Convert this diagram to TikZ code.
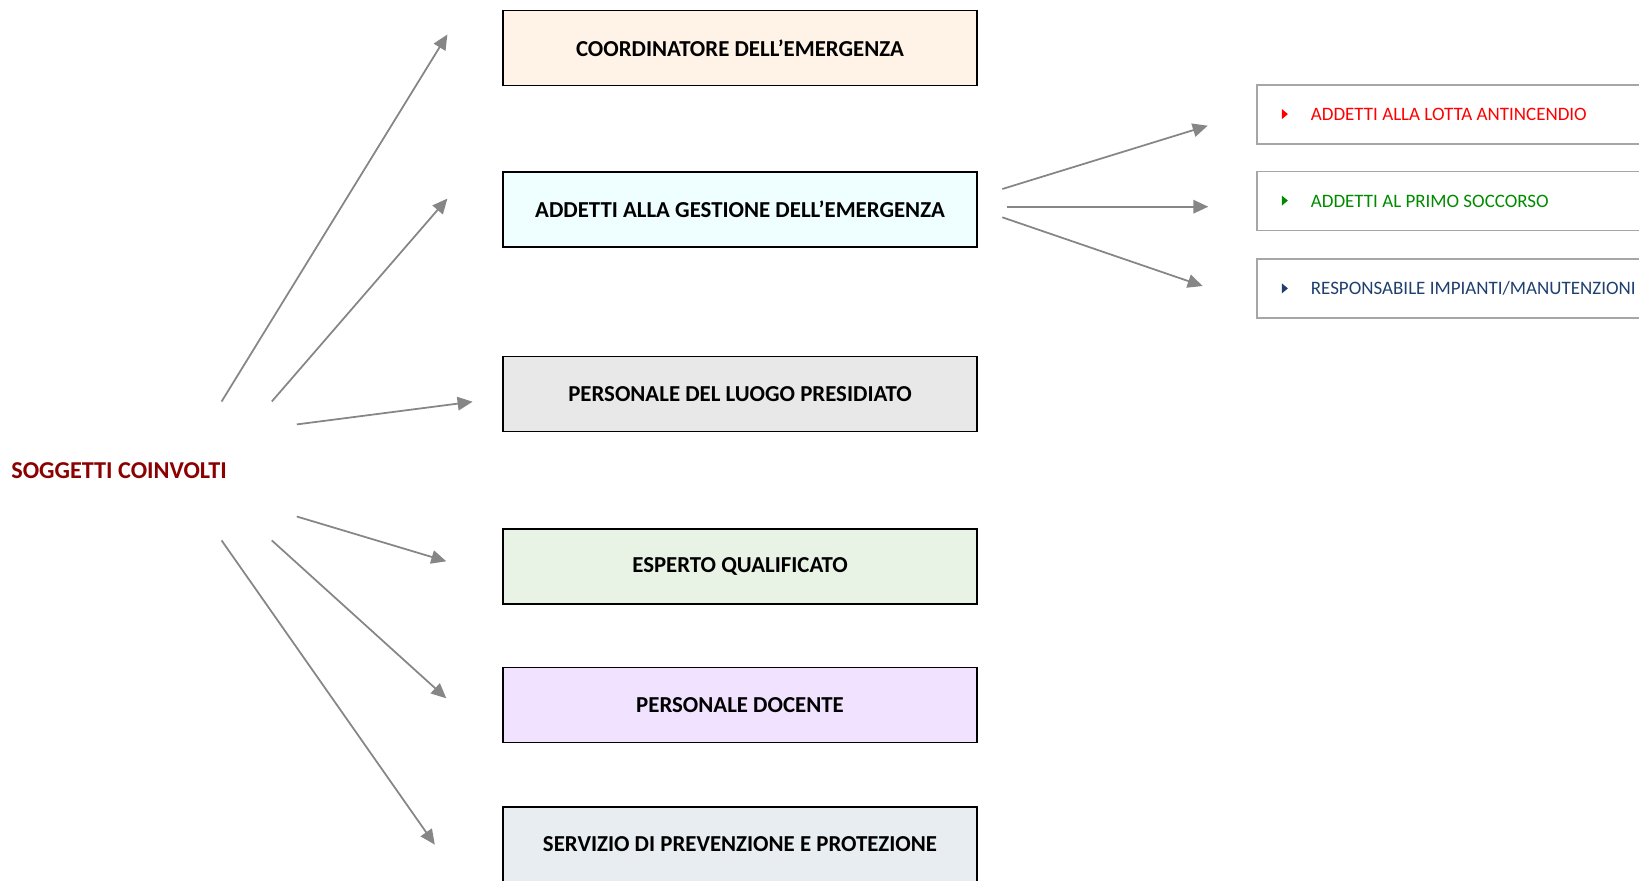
\documentclass[tikz,border=0pt]{standalone}
\usepackage{fontspec}
\setmainfont{Carlito}
\usetikzlibrary{arrows.meta}

\definecolor{titlered}{HTML}{8B0000}
\definecolor{lineclr}{HTML}{868686}
\definecolor{subgray}{HTML}{A6A6A6}
\definecolor{fillcoord}{HTML}{FEF3E6}
\definecolor{fillgest}{HTML}{EFFFFF}
\definecolor{fillpers}{HTML}{E8E8E8}
\definecolor{fillesp}{HTML}{E8F3E6}
\definecolor{filldoc}{HTML}{F1E3FF}
\definecolor{fillspp}{HTML}{E8EDF2}
\definecolor{txtred}{HTML}{FF0000}
\definecolor{txtgreen}{HTML}{008A00}
\definecolor{txtblue}{HTML}{1F3F6F}

\newcommand{\bullettri}[1]{\tikz[x=1cm,y=1cm,baseline=-0.13cm]\fill[#1] (0,-0.1) -- (0.12,0) -- (0,0.1) -- cycle;\hspace{0.46cm}}

\begin{document}
\begin{tikzpicture}[
        x=0.02cm, y=-0.02cm,
        mainbox/.style={draw=black, line width=1pt, minimum width=9.48cm, minimum height=1.5cm,
            font=\fontsize{13}{15}\selectfont\bfseries, align=center},
        subbox/.style={draw=subgray, line width=1pt, minimum width=9cm, minimum height=1.18cm,
            anchor=west, inner xsep=0.44cm, text width=8cm, align=flush left,
            font=\fontsize{10.8}{13}\selectfont},
        fanarrow/.style={draw=lineclr, line width=1pt,
            -{Triangle[length=0.3cm, width=0.27cm]}}
    ]
        \useasboundingbox (0,0) rectangle (1639,880);
        \clip (0,0) rectangle (1639,880);

        % soggetti
        \node[anchor=west, inner sep=0pt, text=titlered, font=\fontsize{13.8}{16}\selectfont\bfseries]
            (soggetti) at (11,471) {SOGGETTI COINVOLTI};

        \node[mainbox, fill=fillcoord] (coord) at (740,48) {COORDINATORE DELL’EMERGENZA};
        \node[mainbox, fill=fillgest] (gestione) at (740,209.5) {ADDETTI ALLA GESTIONE DELL’EMERGENZA};
        \node[mainbox, fill=fillpers] (personale) at (740,394) {PERSONALE DEL LUOGO PRESIDIATO};
        \node[mainbox, fill=fillesp] (esperto) at (740,566.5) {ESPERTO QUALIFICATO};
        \node[mainbox, fill=filldoc] (docente) at (740,705) {PERSONALE DOCENTE};
        \node[mainbox, fill=fillspp] (spp) at (740,844.5) {SERVIZIO DI PREVENZIONE E PROTEZIONE};

        % addetti
        \node[subbox, text=txtred] (antincendio) at (1256,114.5)
            {\bullettri{txtred}ADDETTI ALLA LOTTA ANTINCENDIO};
        \node[subbox, text=txtgreen] (soccorso) at (1256,201)
            {\bullettri{txtgreen}ADDETTI AL PRIMO SOCCORSO};
        \node[subbox, text=txtblue] (impianti) at (1256,288.7)
            {\bullettri{txtblue}RESPONSABILE IMPIANTI/MANUTENZIONI};

        % fan points
        \coordinate (fromA) at (221.6,401.5);
        \coordinate (fromB) at (271.8,401.5);
        \coordinate (fromC) at (296.8,424.4);
        \coordinate (fromD) at (296.8,516.5);
        \coordinate (fromE) at (271.8,540.4);
        \coordinate (fromF) at (221.6,540.4);
        \coordinate (toCoord) at (447.4,34.5);
        \coordinate (toGestione) at (447.4,198.6);
        \coordinate (toPersonale) at (472.6,401.7);
        \coordinate (toEsperto) at (446.3,561.3);
        \coordinate (toDocente) at (446.3,698.3);
        \coordinate (toSpp) at (434.8,844.6);

        \coordinate (gestA) at (1002.3,189);
        \coordinate (gestB) at (1006.7,206.7);
        \coordinate (gestC) at (1002.3,217.3);
        \coordinate (toAntincendio) at (1207.7,125.7);
        \coordinate (toSoccorso) at (1208.3,206.7);
        \coordinate (toImpianti) at (1202.7,286);

        \draw[fanarrow] (fromA) -- (toCoord);
        \draw[fanarrow] (fromB) -- (toGestione);
        \draw[fanarrow] (fromC) -- (toPersonale);
        \draw[fanarrow] (fromD) -- (toEsperto);
        \draw[fanarrow] (fromE) -- (toDocente);
        \draw[fanarrow] (fromF) -- (toSpp);

        \draw[fanarrow] (gestA) -- (toAntincendio);
        \draw[fanarrow] (gestB) -- (toSoccorso);
        \draw[fanarrow] (gestC) -- (toImpianti);
    \end{tikzpicture}
\end{document}
